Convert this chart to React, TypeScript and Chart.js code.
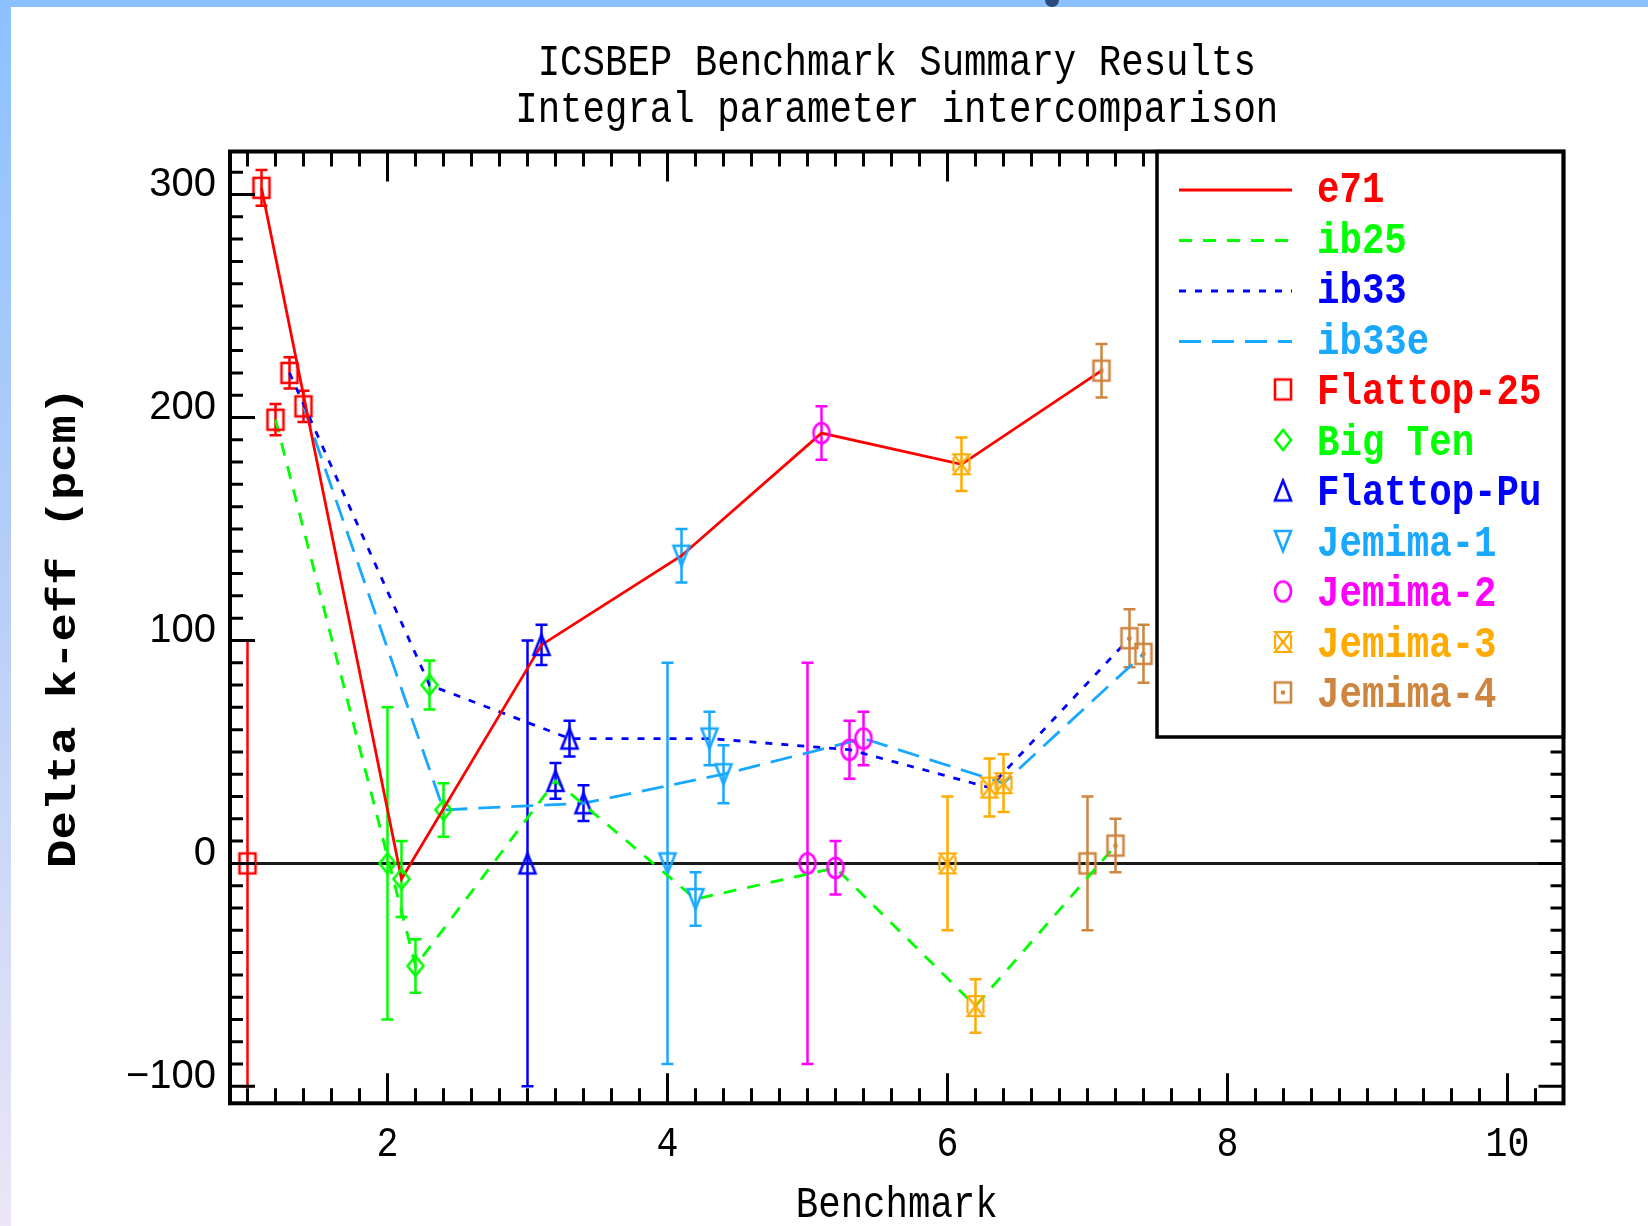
import React, { useEffect, useRef } from 'react';
import { Chart, registerables } from 'chart.js';

Chart.register(...registerables);

// ---------------- data ----------------
const benchmarks = ['Flattop-25', 'Big Ten', 'Flattop-Pu', 'Jemima-1', 'Jemima-2', 'Jemima-3', 'Jemima-4'];
const benchmarkX = [1, 2, 3, 4, 5, 6, 7];
const libraries = ['e71', 'ib25', 'ib33', 'ib33e'];
const libOffsets = [0.1, 0.2, 0.3, 0.4];

const expValues = [0, 0, 0, 0, 0, 0, 0];
const expErrors = [100, 70, 100, 90, 90, 30, 30];
const e71Values = [303, -7, 98, 138, 193, 179, 221];
const e71Errors = [8, 17, 9, 12, 12, 12, 12];
const ib25Values = [199, -46, 37, -16, -2, -64, 8];
const ib25Errors = [7, 12, 8, 12, 12, 12, 12];
const ib33Values = [220, 80, 56, 56, 51, 34, 101];
const ib33Errors = [7, 11, 8, 12, 13, 13, 13];
const ib33eValues = [205, 24, 27, 40, 56, 36, 94];
const ib33eErrors = [7, 12, 8, 13, 12, 13, 13];

const xTickLabels = [2, 4, 6, 8, 10];
const yTickLabels = [-100, 0, 100, 200, 300];
const X_MIN = 0.875;
const X_MAX = 10.4;
const Y_MIN = -107.6;
const Y_MAX = 319.3;

// ---------------- styles ----------------
const benchColors = ['#FF0000', '#00FF00', '#0000FF', '#18A8FF', '#FF00FF', '#FFAA00', '#CD853F'];
const benchMarkers = ['square', 'diamond', 'triangle', 'triangleDown', 'ellipse', 'hourglass', 'squareDot'];
const libColors = ['#FF0000', '#00FF00', '#0000FF', '#18A8FF'];
const libDashes = [[], [13, 11], [7, 9], [22, 11]];

const MONO = '"Liberation Mono", "DejaVu Sans Mono", monospace';
const SANS = '"Liberation Sans", Arial, sans-serif';

function makeMarker(kind: string, color: string): HTMLCanvasElement {
  const w = 16, h = 20, pad = 3;
  const c = document.createElement('canvas');
  c.width = w + pad * 2;
  c.height = h + pad * 2;
  const ctx = c.getContext('2d') as CanvasRenderingContext2D;
  ctx.strokeStyle = color;
  ctx.fillStyle = color;
  ctx.lineWidth = 2.6;
  ctx.lineJoin = 'miter';
  const l = pad, t = pad, r = pad + w, b = pad + h;
  const cx = c.width / 2, cy = c.height / 2;
  ctx.beginPath();
  switch (kind) {
    case 'square':
    case 'squareDot':
      ctx.rect(l, t, w, h);
      break;
    case 'diamond':
      ctx.moveTo(cx, t); ctx.lineTo(r, cy); ctx.lineTo(cx, b); ctx.lineTo(l, cy); ctx.closePath();
      break;
    case 'triangle':
      ctx.moveTo(cx, t); ctx.lineTo(r, b); ctx.lineTo(l, b); ctx.closePath();
      break;
    case 'triangleDown':
      ctx.moveTo(l, t); ctx.lineTo(r, t); ctx.lineTo(cx, b); ctx.closePath();
      break;
    case 'ellipse':
      ctx.ellipse(cx, cy, w / 2, h / 2, 0, 0, Math.PI * 2);
      break;
    case 'hourglass':
      ctx.lineWidth = 2.2;
      ctx.moveTo(l, t); ctx.lineTo(r, t); ctx.lineTo(l, b); ctx.lineTo(r, b); ctx.closePath();
      ctx.moveTo(l, t + 3); ctx.lineTo(l, b - 3);
      ctx.moveTo(r, t + 3); ctx.lineTo(r, b - 3);
      break;
  }
  ctx.stroke();
  if (kind === 'squareDot' || kind === 'hourglass') {
    ctx.beginPath();
    ctx.arc(cx, cy, 2.3, 0, Math.PI * 2);
    ctx.fill();
  }
  return c;
}

function drawText(ctx: CanvasRenderingContext2D, text: string, x: number, y: number, font: string,
  color: string, align: CanvasTextAlign, sx = 1, rot = 0) {
  ctx.save();
  ctx.font = font;
  ctx.fillStyle = color;
  ctx.textAlign = align;
  ctx.textBaseline = 'alphabetic';
  ctx.translate(x, y);
  if (rot) ctx.rotate(rot);
  ctx.scale(sx, 1);
  ctx.fillText(text, 0, 0);
  ctx.restore();
}

export default function App() {
  const ref = useRef<HTMLCanvasElement>(null);

  useEffect(() => {
    const canvas = ref.current;
    if (!canvas) return;
    const markers = benchmarks.map((_, j) => makeMarker(benchMarkers[j], benchColors[j]));
    const libValues = [e71Values, ib25Values, ib33Values, ib33eValues];
    const libErrors = [e71Errors, ib25Errors, ib33Errors, ib33eErrors];

    const datasets: any[] = libraries.map((name, i) => ({
      label: name,
      data: benchmarkX.map((b, j) => ({ x: b + libOffsets[i], y: libValues[i][j] })),
      errors: libErrors[i],
      showLine: true,
      fill: false,
      tension: 0,
      borderColor: libColors[i],
      borderWidth: 2.8,
      borderDash: libDashes[i],
      pointStyle: markers,
      pointRadius: 8,
      pointHoverRadius: 8,
    }));
    datasets.push({
      label: 'experiment',
      data: benchmarkX.map((b, j) => ({ x: b, y: expValues[j] })),
      errors: expErrors,
      showLine: false,
      pointStyle: markers,
      pointRadius: 8,
      pointHoverRadius: 8,
    });

    const decor = {
      id: 'decor',
      beforeDatasetsDraw(chart: any) {
        const ctx = chart.ctx as CanvasRenderingContext2D;
        const xs = chart.scales.x, ys = chart.scales.y, a = chart.chartArea;
        // zero line
        ctx.save();
        ctx.strokeStyle = '#1a1a1a';
        ctx.lineWidth = 3;
        ctx.beginPath();
        const y0 = ys.getPixelForValue(0);
        ctx.moveTo(a.left, y0);
        ctx.lineTo(a.right, y0);
        ctx.stroke();
        // error bars
        ctx.lineWidth = 2.5;
        chart.data.datasets.forEach((ds: any) => {
          ds.data.forEach((p: any, j: number) => {
            const e = ds.errors[j];
            const px = xs.getPixelForValue(p.x);
            const yt = ys.getPixelForValue(p.y + e);
            const yb = ys.getPixelForValue(p.y - e);
            ctx.strokeStyle = benchColors[j];
            ctx.beginPath();
            ctx.moveTo(px, yt); ctx.lineTo(px, yb);
            ctx.moveTo(px - 6, yt); ctx.lineTo(px + 6, yt);
            ctx.moveTo(px - 6, yb); ctx.lineTo(px + 6, yb);
            ctx.stroke();
          });
        });
        ctx.restore();
      },
      afterDraw(chart: any) {
        const ctx = chart.ctx as CanvasRenderingContext2D;
        const xs = chart.scales.x, ys = chart.scales.y, a = chart.chartArea;
        ctx.save();
        ctx.strokeStyle = '#000';
        ctx.lineWidth = 3;
        ctx.lineCap = 'butt';
        // x ticks (bottom + top), minor every 0.2
        ctx.beginPath();
        for (let k = 0; k <= 47; k++) {
          const v = (10 + 2 * k) / 10;
          if (v > X_MAX + 1e-6) break;
          const major = Math.abs(v - Math.round(v)) < 1e-6 && Math.round(v) % 2 === 0;
          const len = major ? 30 : 15;
          const px = xs.getPixelForValue(v);
          ctx.moveTo(px, a.bottom); ctx.lineTo(px, a.bottom - len);
          ctx.moveTo(px, a.top); ctx.lineTo(px, a.top + len);
        }
        // y ticks (left + right), minor every 10
        for (let v = -100; v <= 310; v += 10) {
          const major = v % 100 === 0;
          const len = major ? 25 : 13;
          const py = ys.getPixelForValue(v);
          ctx.moveTo(a.left, py); ctx.lineTo(a.left + len, py);
          ctx.moveTo(a.right, py); ctx.lineTo(a.right - len, py);
        }
        ctx.stroke();

        // legend box fill
        const lgL = 1157, lgT = a.top, lgR = a.right, lgB = 737;
        ctx.fillStyle = '#fff';
        ctx.fillRect(lgL, lgT, lgR - lgL, lgB - lgT);

        // frame
        ctx.lineWidth = 4;
        ctx.strokeRect(a.left, a.top, a.right - a.left, a.bottom - a.top);
        // legend border
        ctx.lineWidth = 3.5;
        ctx.strokeRect(lgL, lgT, lgR - lgL, lgB - lgT);

        // legend contents
        const legFont = `bold 44px ${MONO}`;
        const base0 = 202, step = 50.5;
        libraries.forEach((name, i) => {
          const by = base0 + i * step;
          ctx.save();
          ctx.strokeStyle = libColors[i];
          ctx.lineWidth = 2.8;
          ctx.setLineDash(libDashes[i]);
          ctx.beginPath();
          ctx.moveTo(1179, by - 12);
          ctx.lineTo(1292, by - 12);
          ctx.stroke();
          ctx.restore();
          drawText(ctx, name, 1317, by, legFont, libColors[i], 'left', 0.85);
        });
        benchmarks.forEach((name, j) => {
          const by = base0 + (j + 4) * step;
          const m = markers[j];
          ctx.drawImage(m, 1283 - m.width / 2, by - 14.5 - m.height / 2);
          drawText(ctx, name, 1317, by, legFont, benchColors[j], 'left', 0.85);
        });

        // tick labels
        xTickLabels.forEach((v) => {
          drawText(ctx, String(v), xs.getPixelForValue(v), 1156, `42px ${MONO}`, '#000', 'center', 0.87);
        });
        yTickLabels.forEach((v) => {
          const label = v < 0 ? '\u2212' + String(-v) : String(v);
          drawText(ctx, label, 216, ys.getPixelForValue(v) + 1.3, `40px ${SANS}`, '#000', 'right', 1);
        });

        // titles
        const cx = (a.left + a.right) / 2;
        drawText(ctx, 'ICSBEP Benchmark Summary Results', cx, 75, `44px ${MONO}`, '#000', 'center', 0.85);
        drawText(ctx, 'Integral parameter intercomparison', cx, 122, `44px ${MONO}`, '#000', 'center', 0.85);
        drawText(ctx, 'Benchmark', cx, 1217, `44px ${MONO}`, '#000', 'center', 0.85);
        drawText(ctx, 'Delta k-eff (pcm)', 75, (a.top + a.bottom) / 2, `bold 41px ${MONO}`, '#000', 'center', 1.15, -Math.PI / 2);
        ctx.restore();
      },
    };

    const chart = new Chart(canvas, {
      type: 'scatter',
      data: { datasets },
      options: {
        animation: false,
        responsive: false,
        devicePixelRatio: 1,
        events: [],
        layout: { padding: { left: 230, right: 84.5, top: 151.5, bottom: 122.7 } },
        scales: {
          x: { type: 'linear', min: X_MIN, max: X_MAX, display: false },
          y: { type: 'linear', min: Y_MIN, max: Y_MAX, display: false },
        },
        plugins: { legend: { display: false }, tooltip: { enabled: false }, title: { display: false } },
      },
      plugins: [decor],
    } as any);
    return () => chart.destroy();
  }, []);

  return (
    <div style={{ position: 'fixed', left: 0, top: 0, width: 1648, height: 1226, background: '#fff', overflow: 'hidden' }}>
      <div style={{ position: 'absolute', left: 0, top: 0, width: 1648, height: 7, background: '#8CC1FF' }} />
      <div style={{ position: 'absolute', left: 0, top: 0, width: 11, height: 1226, background: 'linear-gradient(to bottom, #8CC1FF 0%, #B9CFF8 50%, #ECE6F6 100%)' }} />
      <div style={{ position: 'absolute', left: 1045, top: 0, width: 14, height: 7, background: '#2c4a7a', borderRadius: '0 0 7px 7px' }} />
      <canvas ref={ref} width={1648} height={1226} style={{ position: 'absolute', left: 0, top: 0 }} />
    </div>
  );
}
